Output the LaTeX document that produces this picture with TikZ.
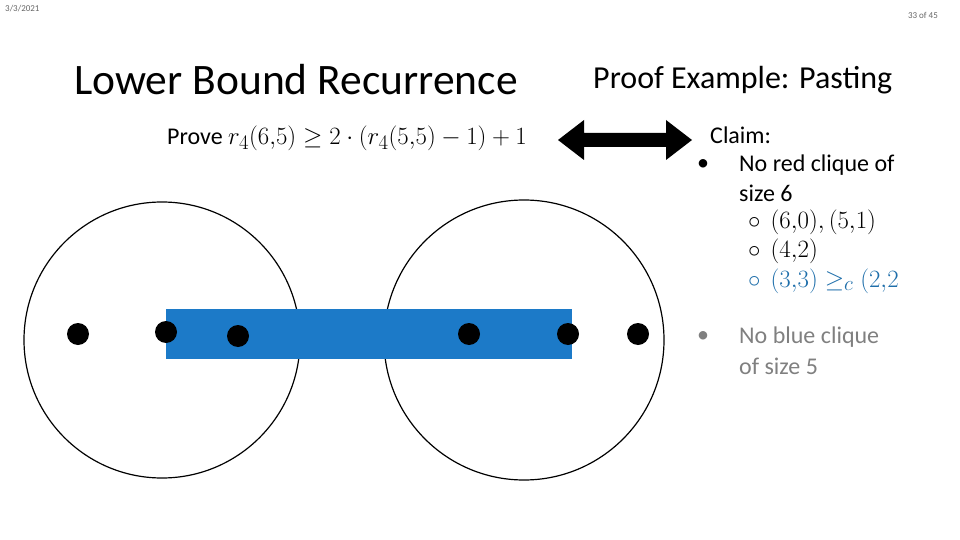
\documentclass[tikz,border=0pt]{standalone}
\usepackage{fontspec}
\usepackage{amsmath,amssymb}
\setmainfont{Carlito}
\newcommand{\mathbig}[1]{{\fontsize{30}{32}\selectfont$#1$}}
\begin{document}
\begin{tikzpicture}[x=1pt,y=-1pt,
  dot/.style={circle,fill=black,minimum size=22pt,inner sep=0pt},
  ring/.style={draw=black,line width=1.2pt},
  txt/.style={anchor=west,inner sep=0pt,font=\fontsize{24}{26}\selectfont}]
\useasboundingbox (0,0) rectangle (960,540);
\definecolor{rectblue}{RGB}{28,122,200}
\definecolor{mathblue}{RGB}{30,110,170}
\node[anchor=north west,inner sep=0pt,font=\fontsize{9}{10}\selectfont,text=gray!80!black] (date) at (5,5) {3/3/2021};
\node[anchor=north east,inner sep=0pt,font=\fontsize{9}{10}\selectfont,text=gray!80!black] (page) at (938,12) {33 of 45};
\node[anchor=west,inner sep=0pt,font=\fontsize{43.5}{46}\selectfont] (t1) at (74,80) {Lower Bound Recurrence};
\node[anchor=west,inner sep=0pt,font=\fontsize{32}{34}\selectfont] (t2) at (593,80) {Proof Example: Pasting};
\node[txt] (prove) at (167,138) {Prove \fontsize{27.4}{30}\selectfont$r_4(6{,}5)\geq 2\cdot\left(r_4(5{,}5)-1\right)+1$};
\fill[black] (558,140)--(584,120)--(584,133)--(666,133)--(666,120)--(692,140)--(666,160)--(666,147)--(584,147)--(584,160)--cycle;
\node[txt] (c0) at (710,135) {Claim:};
\node[txt] (c1b) at (697,165) {\textbullet};
\node[txt] (c1) at (739,165) {No red clique of};
\node[txt] (c2) at (739,193) {size 6};
\node[txt] (s1) at (748,222) {$\circ$\hspace{10pt}\mathbig{(6{,}0),(5{,}1)}};
\node[txt] (s2) at (748,251) {$\circ$\hspace{10pt}\mathbig{(4{,}2)}};
\node[txt,text=mathblue] (s3) at (748,281) {$\circ$\hspace{10pt}\mathbig{(3{,}3)\geq_c(2{,}2}};
\node[txt,text=gray] (b2b) at (697,337) {\textbullet};
\node[txt,text=gray] (b2) at (739,337) {No blue clique};
\node[txt,text=gray] (b3) at (739,366) {of size 5};
\draw[ring] (162,340) circle (138);
\draw[ring] (524,340) circle (140);
\fill[rectblue] (166,309) rectangle (572,359);
\node[dot] (d1) at (78,334) {};
\node[dot] (d2) at (166,332) {};
\node[dot] (d3) at (238,336) {};
\node[dot] (d4) at (469,334) {};
\node[dot] (d5) at (568,334) {};
\node[dot] (d6) at (638,334) {};
\end{tikzpicture}
\end{document}
